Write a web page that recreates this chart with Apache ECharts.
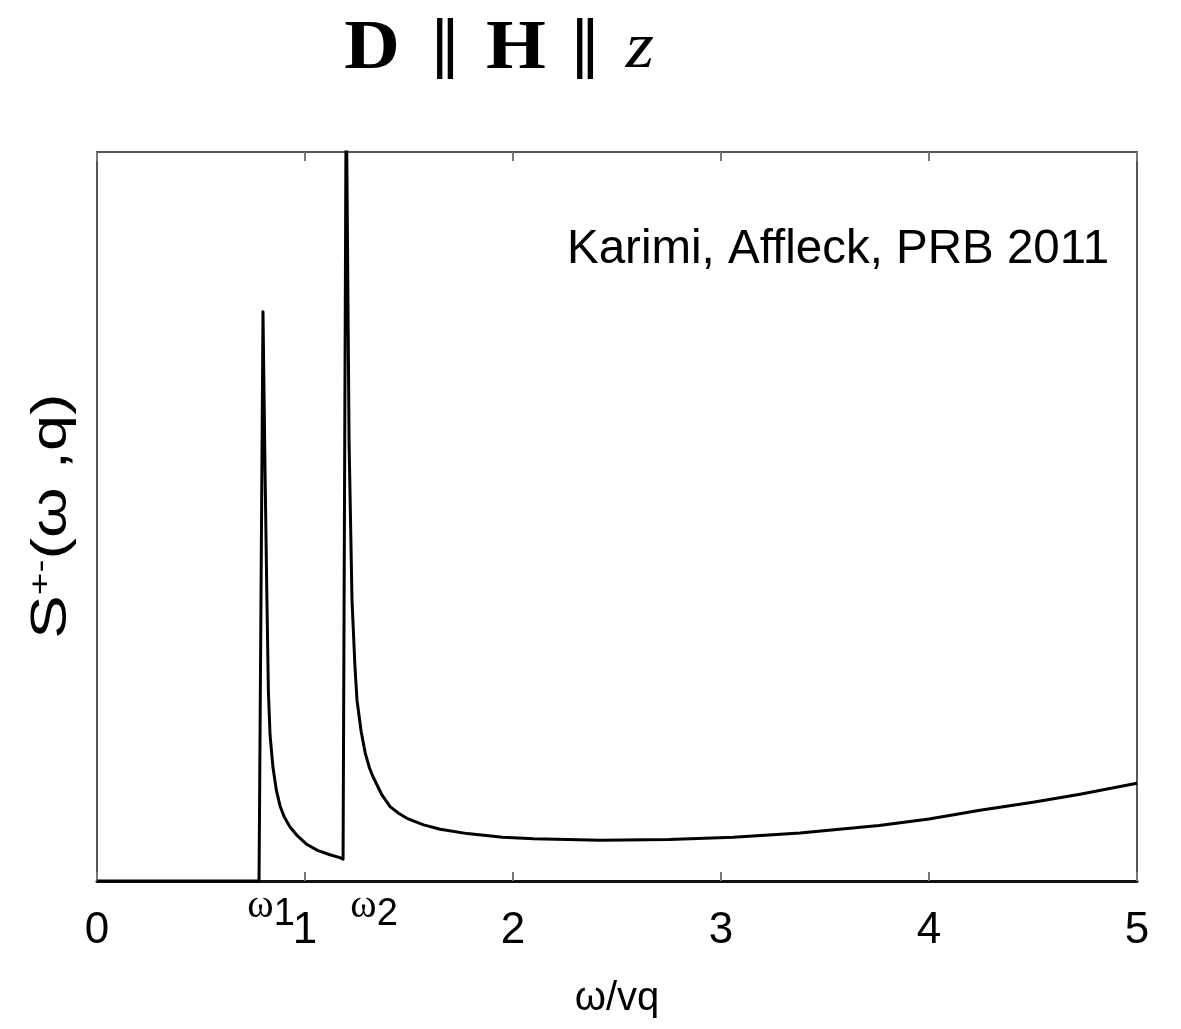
<!DOCTYPE html>
<html>
<head>
<meta charset="utf-8">
<script src="https://cdn.jsdelivr.net/npm/echarts@6/dist/echarts.min.js"></script>
<style>
  html, body { margin: 0; padding: 0; background: #fff; }
  #chart { width: 1181px; height: 1029px; }
</style>
</head>
<body>
<div id="chart"></div>
<script>
// omega / vq
const omega = [0, 0.779, 0.798, 0.808, 0.817, 0.824, 0.832, 0.846, 0.862, 0.88, 0.9, 0.928, 0.96, 1.01, 1.06, 1.12, 1.168, 1.183,
  1.198, 1.212, 1.226, 1.24, 1.25, 1.27, 1.29, 1.31, 1.327, 1.37, 1.409, 1.45, 1.49, 1.57, 1.65, 1.78, 1.95, 2.1, 2.42, 2.75, 3.06,
  3.38, 3.76, 4.0, 4.245, 4.5, 4.726, 5.0]
// S+-(omega,q), arbitrary units (axis top = 10)
const spectral = [0, 0, 7.81, 5.6, 3.85, 2.6, 2.0, 1.56, 1.25, 1.03, 0.88, 0.74, 0.63, 0.5, 0.42, 0.36, 0.32, 0.30,
  11, 6.0, 3.85, 2.95, 2.48, 2.05, 1.75, 1.55, 1.43, 1.18, 1.02, 0.93, 0.86, 0.77, 0.71, 0.65, 0.6, 0.58, 0.56, 0.57, 0.6,
  0.66, 0.76, 0.85, 0.97, 1.08, 1.19, 1.34]
const xTicks = [0, 1, 2, 3, 4, 5]
// threshold markers
const thresholds = [
  {name: '1', x: 0.779, dx: 12},
  {name: '2', x: 1.183, dx: 31}
]

const chart = echarts.init(document.getElementById('chart'))
const font = 'Liberation Sans, Arial, sans-serif'
const serif = 'Liberation Serif, DejaVu Serif, serif'

// title pieces: D || H || z
const titleParts = [
  {t: 'D', x: 372, style: {fontFamily: serif, fontWeight: 'bold', fontSize: 70}},
  {t: '∥', x: 445, style: {fontFamily: 'DejaVu Sans', fontSize: 62}},
  {t: 'H', x: 516, style: {fontFamily: serif, fontWeight: 'bold', fontSize: 70}},
  {t: '∥', x: 585, style: {fontFamily: 'DejaVu Sans', fontSize: 62}},
  {t: 'z', x: 640, style: {fontFamily: serif, fontStyle: 'italic', fontSize: 66}}
]

const option = {
  backgroundColor: '#fff',
  animation: false,
  grid: {
    left: 97, right: 44, top: 152, bottom: 148,
    show: true, borderColor: '#555', borderWidth: 2
  },
  xAxis: [{
    type: 'value',
    min: 0, max: 5, interval: 1,
    name: 'ω/vq',
    nameLocation: 'middle',
    nameGap: 98,
    nameTextStyle: {fontFamily: font, fontSize: 40, color: '#000'},
    axisLine: {show: true, lineStyle: {color: '#111', width: 3}},
    axisTick: {show: true, inside: true, length: 9, lineStyle: {color: '#777', width: 2}},
    splitLine: {show: false},
    axisLabel: {
      fontFamily: font, fontSize: 44, color: '#000', margin: 28,
      formatter: v => xTicks.includes(v) ? String(v) : ''
    }
  }, {
    type: 'value',
    position: 'top',
    min: 0, max: 5, interval: 1,
    axisLine: {show: false},
    axisTick: {show: true, inside: true, length: 9, lineStyle: {color: '#777', width: 2}},
    splitLine: {show: false},
    axisLabel: {show: false}
  }],
  yAxis: {
    type: 'value',
    min: 0, max: 10,
    axisLine: {show: false},
    axisTick: {show: false},
    axisLabel: {show: false},
    splitLine: {show: false}
  },
  graphic: titleParts.map(p => ({
    type: 'text',
    x: p.x,
    y: 50,
    scaleX: 1.1,
    style: Object.assign({text: p.t, fill: '#000', align: 'center', verticalAlign: 'middle'}, p.style)
  })).concat([{
    type: 'text',
    x: 567,
    y: 250,
    style: {text: 'Karimi, Affleck, PRB 2011', fontFamily: font, fontSize: 47.5, fill: '#000', verticalAlign: 'middle'}
  }, {
    type: 'text',
    x: 52,
    y: 516,
    rotation: Math.PI / 2,
    scaleX: 1.3,
    style: {
      text: '{s|S}{p|+-}{s|(ω ,q)}',
      align: 'center',
      verticalAlign: 'middle',
      rich: {
        s: {fontFamily: font, fontSize: 50, fill: '#000'},
        p: {fontFamily: font, fontSize: 30, fill: '#000', verticalAlign: 'top', padding: [0, 0, 20, 0]}
      }
    }
  }]),
  series: [{
    type: 'line',
    data: omega.map((x, i) => [x, spectral[i]]),
    symbol: 'none',
    clip: true,
    lineStyle: {color: '#000', width: 3, join: 'round'},
    markPoint: {
      symbol: 'circle',
      symbolSize: 0,
      silent: true,
      data: thresholds.map(t => ({
        coord: [t.x, 0],
        label: {
          show: true,
          position: 'bottom',
          offset: [t.dx, 0],
          formatter: '{w|ω}{d|' + t.name + '}',
          rich: {
            w: {fontFamily: serif, fontSize: 40, color: '#000', verticalAlign: 'top'},
            d: {fontFamily: font, fontSize: 38, color: '#000', verticalAlign: 'bottom', padding: [10, 0, 0, 0]}
          }
        }
      }))
    }
  }]
}

chart.setOption(option)
</script>
</body>
</html>
